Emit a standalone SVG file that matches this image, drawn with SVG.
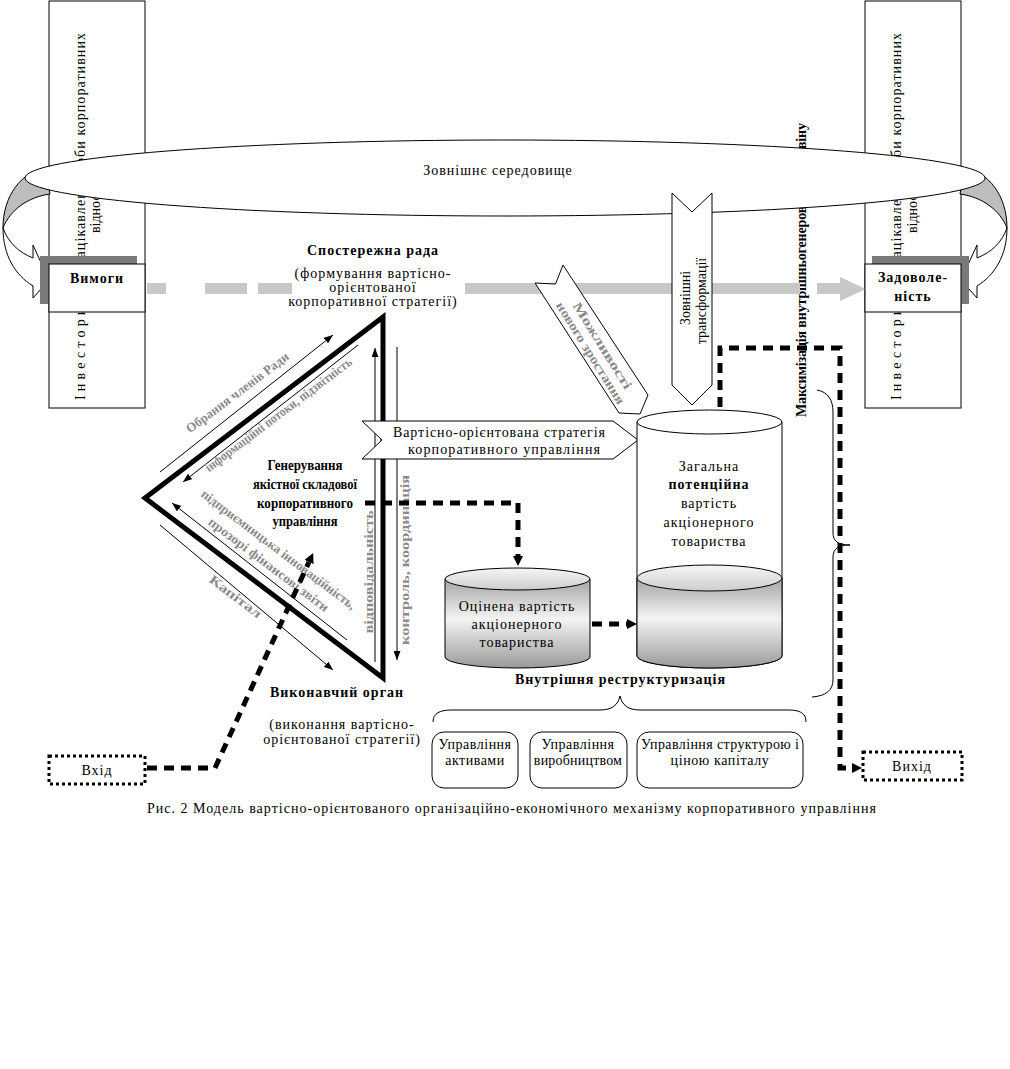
<svg xmlns="http://www.w3.org/2000/svg" width="1010" height="1069" viewBox="0 0 1010 1069">
<style>
.t{font-family:'Liberation Serif','Times New Roman',serif;font-size:14px;fill:#000;letter-spacing:1px}
.b{font-weight:bold}
.c{text-anchor:middle}
.ns{letter-spacing:0}
.g{font-family:'Liberation Serif','Times New Roman',serif;font-weight:bold;font-size:13px;fill:#8a8a8a;text-anchor:middle}
.ln{stroke:#000;stroke-width:1;fill:none}
.bx{stroke:#000;stroke-width:1;fill:#fff}
.dash{stroke:#000;stroke-width:5;fill:none;stroke-dasharray:10 7}
.dot{stroke:#000;stroke-width:3;stroke-dasharray:3 3;fill:#fff}
.grey{fill:#c8c8c8}
</style>
<defs>
<marker id="ah" viewBox="0 0 9 7" refX="9" refY="3.5" markerWidth="9" markerHeight="7" markerUnits="userSpaceOnUse" orient="auto"><path d="M0,0 L9,3.5 L0,7 z" fill="#000"/></marker>
<marker id="dh" viewBox="0 0 10 10" refX="0" refY="5" markerWidth="10" markerHeight="10" markerUnits="userSpaceOnUse" orient="auto"><path d="M0,0 L10,5 L0,10 z" fill="#000"/></marker>
<linearGradient id="body" x1="0" y1="0" x2="0" y2="1"><stop offset="0" stop-color="#a4a4a4"/><stop offset="0.45" stop-color="#f4f4f4"/><stop offset="1" stop-color="#999"/></linearGradient>
<linearGradient id="surf" x1="0" y1="0" x2="0" y2="1"><stop offset="0" stop-color="#f6f6f6"/><stop offset="1" stop-color="#cdcdcd"/></linearGradient>
</defs>
<rect width="1010" height="1069" fill="#fff"/>

<g id="investors-left">
<rect class="bx" x="49" y="1" width="96" height="407"/>
<text class="t ns" font-size="16" transform="translate(85,400) rotate(-90)" textLength="100" lengthAdjust="spacing">Інвестори,</text>
<text class="t ns" font-size="16" transform="translate(85,264) rotate(-90)" textLength="231" lengthAdjust="spacing">зацікавлені особи корпоративних</text>
<text class="t ns" font-size="15" transform="translate(100,233) rotate(-90)">відносин</text>
</g>
<g id="investors-right">
<rect class="bx" x="865" y="1" width="96" height="407"/>
<text class="t ns" font-size="16" transform="translate(901,400) rotate(-90)" textLength="100" lengthAdjust="spacing">Інвестори,</text>
<text class="t ns" font-size="16" transform="translate(901,264) rotate(-90)" textLength="231" lengthAdjust="spacing">зацікавлені особи корпоративних</text>
<text class="t ns" font-size="15" transform="translate(917,233) rotate(-90)">відносин</text>
</g>
<g id="maximization">
<text class="t b ns" font-size="12.5" transform="translate(806,417) rotate(-90)" textLength="294" lengthAdjust="spacing">Максимізація внутрішньогенерованого гудвіну</text>
</g>

<g id="loop-back">
<path d="M45,168 C22,172 3,195 3,228 C10,210 28,197 50,194 Z" fill="#bdbdbd" stroke="#000"/>
<path d="M965,168 C988,172 1007,195 1007,228 C1000,210 982,197 960,194 Z" fill="#bdbdbd" stroke="#000"/>
</g>

<g id="environment">
<ellipse cx="505" cy="178" rx="480" ry="38" fill="#fff" stroke="#000"/>
<text class="t c" x="498" y="175">Зовнішнє середовище</text>
</g>

<g id="loop-arrows">
<path d="M3,228 C3,255 15,275 33,286 L33,298 L49,280 L33,245 L33,258 C18,252 8,242 3,228 Z" fill="#fff" stroke="#000"/>
<path d="M1007,228 C1007,255 995,275 977,286 L977,298 L961,280 L977,245 L977,258 C992,252 1002,242 1007,228 Z" fill="#fff" stroke="#000"/>
</g>

<g id="value-flow">
<rect class="grey" x="147" y="283" width="19" height="11"/>
<rect class="grey" x="205" y="283" width="42" height="11"/>
<rect class="grey" x="258" y="283" width="34" height="11"/>
<rect class="grey" x="465" y="283" width="335" height="11"/>
<rect class="grey" x="817" y="283" width="24" height="11"/>
<path class="grey" d="M840,277 L866,289 L840,301 Z"/>
</g>

<g id="requirements">
<rect x="40" y="256" width="97" height="48" fill="#7a7a7a"/>
<rect class="bx" x="49" y="264" width="96" height="48"/>
<text class="t b c" x="97" y="283">Вимоги</text>
</g>
<g id="satisfaction">
<rect x="872" y="256" width="97" height="48" fill="#7a7a7a"/>
<rect class="bx" x="865" y="264" width="96" height="48"/>
<text class="t b c" x="913" y="282">Задоволе-</text>
<text class="t b c" x="913" y="301">ність</text>
</g>

<g id="supervisory-board">
<rect x="292" y="280" width="173" height="17" fill="#fff"/>
<text class="t b c" x="373" y="255">Спостережна рада</text>
<text class="t c" x="373" y="278">(формування вартісно-</text>
<text class="t c" x="373" y="292">орієнтованої</text>
<text class="t c" x="373" y="306">корпоративної стратегії)</text>
</g>

<g id="governance-triangle">
<polygon points="383,317 145,498 383,678" fill="none" stroke="#000" stroke-width="5"/>
<text class="t b c ns" font-size="15" fill="#222" x="305" y="470" textLength="75" lengthAdjust="spacingAndGlyphs">Генерування</text>
<text class="t b c ns" font-size="15" fill="#222" x="305" y="489" textLength="104" lengthAdjust="spacingAndGlyphs">якістної складової</text>
<text class="t b c ns" font-size="15" fill="#222" x="305" y="508" textLength="96" lengthAdjust="spacingAndGlyphs">корпоративного</text>
<text class="t b c ns" font-size="15" fill="#222" x="305" y="526" textLength="65" lengthAdjust="spacingAndGlyphs">управління</text>
</g>

<g id="executive-body">
<text class="t b c" x="337" y="697">Виконавчий орган</text>
<text class="t c" x="342" y="729">(виконання вартісно-</text>
<text class="t c" x="342" y="744">орієнтованої стратегії)</text>
</g>

<g id="connectors">
<line class="ln" x1="160" y1="472" x2="333" y2="335" marker-end="url(#ah)"/>
<line class="ln" x1="358" y1="345" x2="183" y2="482" marker-end="url(#ah)"/>
<line class="ln" x1="347" y1="640" x2="172" y2="503" marker-end="url(#ah)"/>
<line class="ln" x1="160" y1="525" x2="333" y2="670" marker-end="url(#ah)"/>
<line class="ln" x1="375" y1="662" x2="375" y2="348" marker-end="url(#ah)"/>
<line class="ln" x1="397" y1="347" x2="397" y2="660" marker-end="url(#ah)"/>
<text class="g" font-size="14" transform="translate(240,396) rotate(-37)" textLength="125" lengthAdjust="spacingAndGlyphs">Обрання членів Ради</text>
<text class="g" transform="translate(281,418) rotate(-37)" textLength="180" lengthAdjust="spacingAndGlyphs">інформаційні потоки, підзвітність</text>
<text class="g" transform="translate(276,553) rotate(37)" textLength="190" lengthAdjust="spacingAndGlyphs">підприємницька інноваційність,</text>
<text class="g" transform="translate(266,568) rotate(37)" textLength="147" lengthAdjust="spacingAndGlyphs">прозорі фінансові звіти</text>
<text class="g" font-size="14" transform="translate(233,600) rotate(37)" textLength="62" lengthAdjust="spacingAndGlyphs">Капітал</text>
<text class="g" transform="translate(368,572) rotate(-90)" y="5" textLength="123" lengthAdjust="spacingAndGlyphs">відповідальність</text>
<text class="g" transform="translate(404,560) rotate(-90)" y="5" textLength="170" lengthAdjust="spacingAndGlyphs">контроль, координація</text>
</g>

<g id="strategy">
<polygon points="362,421 613,421 638,440 613,459 362,459 382,440" class="bx"/>
<text class="t c ns" x="499" y="437" textLength="212" lengthAdjust="spacing">Вартісно-орієнтована стратегія</text>
<text class="t c ns" x="504" y="454" textLength="192" lengthAdjust="spacing">корпоративного управління</text>
</g>

<g id="growth-opportunities">
<polygon points="535,283 555.5,284 563,265 648,395 640,414 619,413" class="bx"/>
<text class="g" font-size="15" transform="translate(597,349) rotate(58)" y="-2" textLength="100" lengthAdjust="spacingAndGlyphs">Можливості</text>
<text class="g" font-size="15" transform="translate(597,349) rotate(58)" y="12" textLength="118" lengthAdjust="spacingAndGlyphs">нового зростання</text>
</g>

<g id="external-transformations">
<polygon points="672,193 692,212 712,193 712,385 692,405 672,385" class="bx"/>
<text class="t c ns" font-size="13" transform="translate(697,298) rotate(-90)" y="-7">Зовнішні</text>
<text class="t c ns" font-size="13" transform="translate(697,301) rotate(-90)" y="9">трансформації</text>
</g>

<g id="potential-value">
<path d="M637,422 V656 A72.5,12 0 0 0 782,656 V422 Z" fill="#fff" stroke="#000"/>
<path d="M637,578 V656 A72.5,12 0 0 0 782,656 V578 Z" fill="url(#body)" stroke="#000"/>
<ellipse cx="709.5" cy="578" rx="72.5" ry="13" fill="url(#surf)" stroke="#000"/>
<ellipse cx="709.5" cy="422" rx="72.5" ry="12" fill="#fff" stroke="#000"/>
<text class="t c" x="709" y="471">Загальна</text>
<text class="t b c" x="709" y="489">потенційна</text>
<text class="t c" x="709" y="508">вартість</text>
<text class="t c" x="709" y="527">акціонерного</text>
<text class="t c" x="709" y="546">товариства</text>
</g>

<g id="estimated-value">
<path d="M445,579 V657 A72.5,11 0 0 0 590,657 V579 Z" fill="url(#body)" stroke="#000"/>
<ellipse cx="517.5" cy="579" rx="72.5" ry="11" fill="url(#surf)" stroke="#000"/>
<text class="t c" x="517" y="611">Оцінена вартість</text>
<text class="t c" x="517" y="629">акціонерного</text>
<text class="t c" x="517" y="647">товариства</text>
</g>

<g id="restructuring">
<text class="t b c ns" x="620" y="684" textLength="210" lengthAdjust="spacing">Внутрішня реструктуризація</text>
<path class="ln" d="M433,722 C433,713 440,710 452,710 L600,710 C612,710 618,705 620,696 C622,705 628,710 640,710 L788,710 C800,710 806,713 806,722"/>
</g>
<g id="assets">
<rect class="bx" x="432" y="732" width="86" height="56" rx="12"/>
<text class="t c" font-size="13" x="475" y="749" style="letter-spacing:0.5px">Управління</text>
<text class="t c" font-size="13" x="475" y="765" style="letter-spacing:0.5px">активами</text>
</g>
<g id="production">
<rect class="bx" x="530" y="732" width="97" height="56" rx="12"/>
<text class="t c" font-size="13" x="578" y="749" style="letter-spacing:0.5px">Управління</text>
<text class="t c" font-size="13" x="578" y="765" style="letter-spacing:0.2px">виробництвом</text>
</g>
<g id="capital">
<rect class="bx" x="637" y="732" width="166" height="56" rx="12"/>
<text class="t c ns" font-size="13" x="720" y="749" textLength="158" lengthAdjust="spacing">Управління структурою і</text>
<text class="t c" font-size="13" x="720" y="765" style="letter-spacing:0.6px">ціною капіталу</text>
</g>

<g id="brace-right">
<path class="ln" d="M817,390 C828,392 833,400 833,412 L833,533 C833,541 838,545 850,545 C838,545 833,549 833,557 L833,680 C833,690 826,696 812,697"/>
</g>

<g id="input">
<rect class="dot" x="49" y="756" width="96" height="28"/>
<text class="t c" x="97" y="775">Вхід</text>
</g>
<g id="output">
<rect class="dot" x="863" y="752" width="99" height="28"/>
<text class="t c" x="912" y="771">Вихід</text>
</g>

<g id="flow-connectors">
<path class="dash" d="M365,503 H518 V556" marker-end="url(#dh)"/>
<path class="dash" d="M592,624 H627" marker-end="url(#dh)"/>
<path class="dash" d="M720,407 V348 H840 V768 H852" marker-end="url(#dh)"/>
<path class="dash" d="M147,768 H215 L309,562" marker-end="url(#dh)"/>
</g>

<text class="t ns" font-size="13" x="147" y="813" textLength="729" lengthAdjust="spacing">Рис. 2 Модель вартісно-орієнтованого  організаційно-економічного механізму корпоративного управління</text>
</svg>
